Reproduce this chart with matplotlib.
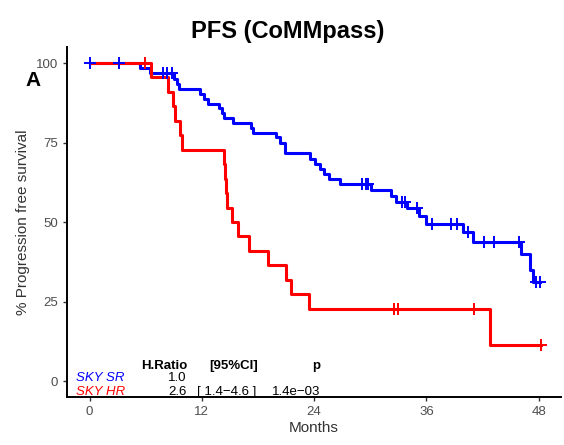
import matplotlib.pyplot as plt

plt.rcParams['font.family'] = ['Liberation Sans', 'DejaVu Sans']

# SKY SR (standard risk) - event times (months) and survival (%) after each step
sr_time = [0, 5.4, 6.5, 9.0, 9.3, 9.6, 11.8, 12.2, 12.7, 13.8, 14.2, 14.4, 15.3,
           17.2, 17.5, 19.9, 20.4, 20.9, 23.6, 24.1, 24.6, 25.1, 25.6, 26.8,
           30.1, 32.2, 32.7, 33.9, 35.2, 36.0, 39.9, 41.0, 46.1, 47.1, 47.4, 48.1]
sr_surv = [100, 98.4, 96.8, 95.1, 93.5, 91.9, 90.3, 88.7, 87.1, 85.8, 84.2, 82.6, 81.2,
           79.6, 78.1, 76.6, 75.0, 71.8, 69.8, 68.2, 66.7, 65.1, 63.5, 62.0,
           60.0, 58.3, 56.3, 54.3, 51.8, 49.5, 46.8, 43.8, 40.1, 35.0, 31.2, 31.2]
sr_cens_time = [0, 3.1, 7.8, 8.3, 8.8, 29.1, 29.5, 29.8, 33.4, 33.7, 35.0,
                36.6, 38.6, 39.3, 40.4, 42.2, 43.2, 45.9, 47.7, 48.1]
sr_cens_surv = [100, 100, 96.8, 96.8, 96.8, 62.0, 62.0, 62.0, 56.3, 56.3, 54.3,
                49.5, 49.5, 49.5, 46.8, 43.8, 43.8, 43.8, 31.2, 31.2]

# SKY HR (high risk)
hr_time = [0, 6.6, 8.4, 8.9, 9.1, 9.7, 9.9, 14.4, 14.5, 14.6, 14.7, 15.2, 15.9,
           17.0, 19.1, 21.0, 21.5, 23.5, 42.8, 48.2]
hr_surv = [100, 95.5, 90.9, 86.4, 81.8, 77.3, 72.7, 68.2, 63.6, 59.1, 54.5, 50.0, 45.5,
           40.9, 36.4, 31.8, 27.3, 22.7, 11.4, 11.4]
hr_cens_time = [5.9, 32.5, 33.0, 41.1, 48.2]
hr_cens_surv = [100, 22.7, 22.7, 22.7, 11.4]

# Cox model summary table
groups = ['SKY SR', 'SKY HR']
group_colors = ['#0000FF', '#FF0000']
hratio = ['1.0', '2.6']
ci = ['', '[ 1.4\u22124.6 ]']
pval = ['', '1.4e\u221203']

fig = plt.figure(figsize=(5.64, 4.45), dpi=100)
ax = fig.add_axes([0.119, 0.108, 0.876, 0.786])

ax.step(sr_time, sr_surv, where='post', color='#0000FF', lw=2.2)
ax.step(hr_time, hr_surv, where='post', color='#FF0000', lw=2.2)
ax.plot(hr_cens_time, hr_cens_surv, '+', color='#FF0000', ms=8, mew=1.4)
ax.plot(sr_cens_time, sr_cens_surv, '+', color='#0000FF', ms=8, mew=1.4)

ax.set_xlim(-2.4, 50.4)
ax.set_ylim(-5, 105)
ax.set_xticks([0, 12, 24, 36, 48])
ax.set_yticks([0, 25, 50, 75, 100])
ax.tick_params(labelsize=9.5, labelcolor='#4d4d4d', length=3, width=1, color='#333333')
for s in ['top', 'right']:
    ax.spines[s].set_visible(False)
for s in ['left', 'bottom']:
    ax.spines[s].set_linewidth(1.4)
    ax.spines[s].set_color('black')

ax.set_xlabel('Months', fontsize=11, color='#333333', labelpad=2)
ax.set_ylabel('% Progression free survival', fontsize=11, color='#333333', labelpad=4)

fig.text(0.51, 0.93, 'PFS (CoMMpass)', ha='center', va='center',
         fontsize=17, fontweight='bold')
fig.text(0.058, 0.82, 'A', ha='center', va='center', fontsize=15, fontweight='bold')

# table
ax.text(10.4, 4.7, 'H.Ratio', ha='right', va='center', fontsize=9.5, fontweight='bold')
ax.text(15.4, 4.7, '[95%CI]', ha='center', va='center', fontsize=9.5, fontweight='bold')
ax.text(24.6, 4.7, 'p', ha='right', va='center', fontsize=9.5, fontweight='bold')
row_y = [0.9, -3.5]
for i in range(len(groups)):
    ax.text(-1.4, row_y[i], groups[i], ha='left', va='center', fontsize=9.5,
            style='italic', color=group_colors[i])
    ax.text(10.4, row_y[i], hratio[i], ha='right', va='center', fontsize=9.5)
    ax.text(14.65, row_y[i], ci[i], ha='center', va='center', fontsize=9.5)
    ax.text(24.7, row_y[i], pval[i], ha='right', va='center', fontsize=9.5)

fig.savefig('out.png', dpi=100, facecolor='white')
